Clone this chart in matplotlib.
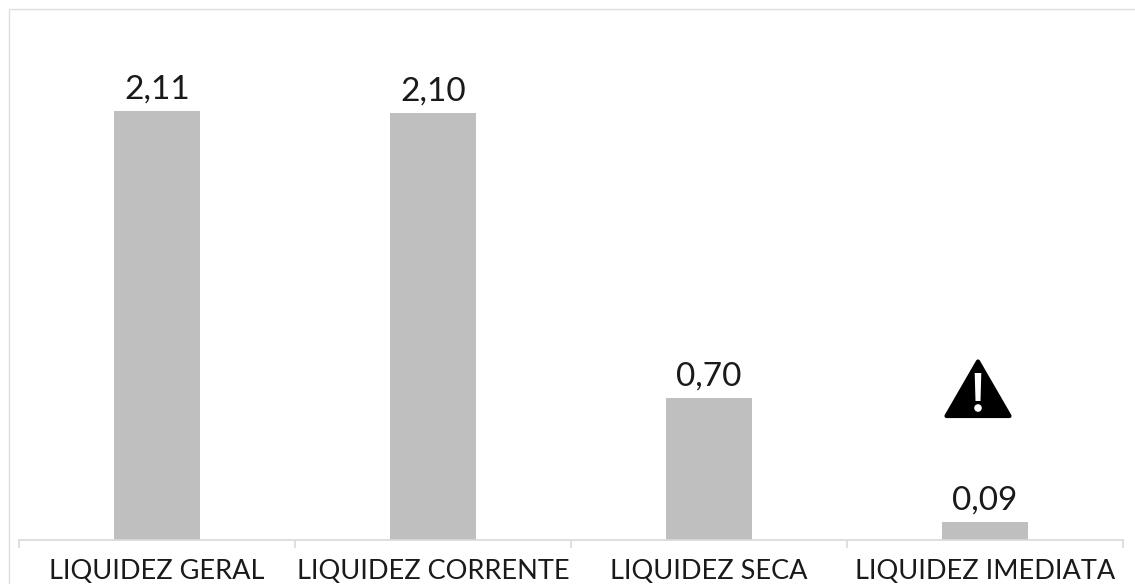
import matplotlib
matplotlib.use('Agg')
from matplotlib import pyplot as plt
from matplotlib.patches import Polygon, Rectangle, Circle

categories = ['LIQUIDEZ GERAL', 'LIQUIDEZ CORRENTE', 'LIQUIDEZ SECA', 'LIQUIDEZ IMEDIATA']
values = [2.11, 2.10, 0.70, 0.09]
value_labels = ['2,11', '2,10', '0,70', '0,09']

W, H = 1135, 584
plt.rcParams['font.family'] = ['Lato', 'DejaVu Sans']

fig = plt.figure(figsize=(W / 100, H / 100), dpi=100)
# axes placed by pixel: baseline at y=540, axis from x=19 to x=1123
ax = fig.add_axes([19 / W, (H - 540) / H, 1104 / W, 440 / H])

x = list(range(len(values)))
bars = ax.bar(x, values, width=0.313, color='#bfbfbf')
ax.set_xlim(-0.5, 3.5)
ax.set_ylim(0, 440 / 203.5)

for b, lab in zip(bars, value_labels):
    ax.annotate(lab, (b.get_x() + b.get_width() / 2, b.get_height()), xytext=(0, 4.5),
                textcoords='offset points', ha='center', va='bottom', fontsize=24, color='#1a1a1a')

for s in ['top', 'left', 'right']:
    ax.spines[s].set_visible(False)
ax.spines['bottom'].set_color('#d9d9d9')
ax.spines['bottom'].set_linewidth(1.2)
ax.set_yticks([])
ax.set_xticks([-0.5, 0.5, 1.5, 2.5, 3.5])
ax.set_xticklabels([])
ax.tick_params(axis='x', length=6, width=1.2, color='#d9d9d9')
ax.set_xticks(x, minor=True)
ax.set_xticklabels(categories, minor=True, fontsize=19.5, color='#1a1a1a')
ax.tick_params(axis='x', which='minor', length=0, pad=14)


def px(xp, yp):
    return xp / W, 1 - yp / H


# outer frame, only top and left are really visible
fig.add_artist(Rectangle(px(9, 600), 1130 / W, 591 / H, transform=fig.transFigure,
                         fill=False, ec='#dedede', lw=1))

# warning icon
fig.add_artist(Polygon([px(978, 361.5), px(1009.5, 416), px(946.5, 416)], closed=True, transform=fig.transFigure,
                       fc='black', ec='black', lw=3, joinstyle='round'))
fig.add_artist(Polygon([px(974.7, 373), px(981.3, 373), px(980.5, 401), px(975.5, 401)], closed=True,
                       transform=fig.transFigure, fc='white', ec='none'))
fig.add_artist(Circle((978, H - 408), 3.8, transform=None, fc='white', ec='none'))

fig.savefig('out.png', dpi=100)
